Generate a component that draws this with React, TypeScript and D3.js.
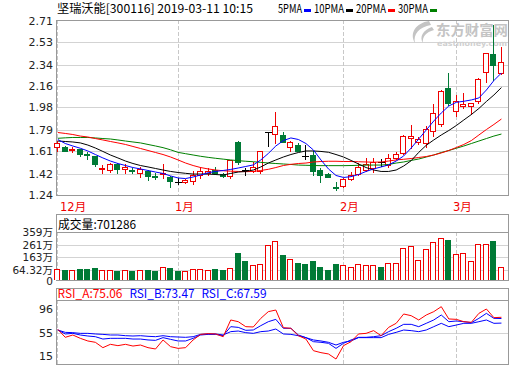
import { useEffect, useRef } from 'react';
import * as d3 from 'd3';

const title = '坚瑞沃能[300116] 2019-03-11 10:15';

const opens = [1.643, 1.648, 1.62, 1.626, 1.59, 1.569, 1.46, 1.454, 1.502, 1.457, 1.448, 1.428, 1.445, 1.401, 1.42, 1.395, 1.35, 1.35, 1.358, 1.412, 1.423, 1.448, 1.42, 1.401, 1.688, 1.447, 1.443, 1.443, 1.77, 1.753, 1.747, 1.643, 1.665, 1.572, 1.578, 1.451, 1.418, 1.305, 1.316, 1.376, 1.415, 1.451, 1.471, 1.518, 1.493, 1.55, 1.592, 1.724, 1.688, 1.682, 1.783, 1.837, 2.147, 1.95, 1.989, 1.995, 2.034, 2.277, 2.431, 2.268];
const highs = [1.699, 1.652, 1.643, 1.63, 1.601, 1.571, 1.496, 1.508, 1.513, 1.502, 1.466, 1.474, 1.448, 1.423, 1.502, 1.397, 1.381, 1.372, 1.443, 1.474, 1.466, 1.479, 1.423, 1.536, 1.692, 1.466, 1.521, 1.615, 1.77, 1.939, 1.77, 1.692, 1.677, 1.662, 1.614, 1.466, 1.428, 1.352, 1.381, 1.432, 1.508, 1.55, 1.555, 1.542, 1.584, 1.606, 1.745, 1.831, 1.733, 1.823, 2.006, 2.125, 2.268, 2.085, 2.099, 2.02, 2.225, 2.44, 2.676, 2.493];
const lows = [1.614, 1.61, 1.604, 1.572, 1.542, 1.488, 1.428, 1.434, 1.428, 1.423, 1.423, 1.39, 1.367, 1.378, 1.38, 1.31, 1.333, 1.343, 1.333, 1.381, 1.409, 1.42, 1.395, 1.386, 1.502, 1.412, 1.437, 1.423, 1.657, 1.677, 1.688, 1.614, 1.61, 1.542, 1.409, 1.347, 1.39, 1.28, 1.305, 1.367, 1.409, 1.445, 1.437, 1.488, 1.479, 1.54, 1.586, 1.64, 1.668, 1.648, 1.741, 1.823, 2.0, 1.91, 1.978, 1.922, 2.015, 2.197, 2.212, 2.265];
const closes = [1.682, 1.614, 1.626, 1.586, 1.584, 1.502, 1.465, 1.499, 1.46, 1.474, 1.444, 1.457, 1.403, 1.397, 1.425, 1.356, 1.35, 1.364, 1.409, 1.443, 1.443, 1.425, 1.401, 1.533, 1.516, 1.447, 1.479, 1.612, 1.77, 1.823, 1.69, 1.688, 1.612, 1.572, 1.445, 1.409, 1.395, 1.3, 1.373, 1.409, 1.479, 1.499, 1.521, 1.518, 1.55, 1.584, 1.741, 1.738, 1.711, 1.8, 1.93, 2.119, 2.015, 2.037, 2.011, 2.017, 2.22, 2.437, 2.338, 2.361];

// volume in 万
const volumes = [69, 63, 63, 69, 69, 76, 61, 61, 56, 61, 56, 61, 63, 56, 86, 76, 56, 56, 74, 74, 61, 69, 63, 76, 201, 132, 99, 107, 260, 290, 178, 153, 117, 107, 132, 86, 63, 107, 99, 84, 107, 99, 99, 84, 115, 122, 234, 250, 145, 227, 283, 318, 298, 191, 199, 137, 267, 267, 290, 89];

const ma5 = [1.709, 1.675, 1.654, 1.635, 1.612, 1.582, 1.553, 1.527, 1.506, 1.489, 1.472, 1.46, 1.447, 1.434, 1.422, 1.401, 1.384, 1.379, 1.392, 1.409, 1.428, 1.439, 1.447, 1.456, 1.468, 1.481, 1.494, 1.536, 1.591, 1.654, 1.7, 1.722, 1.709, 1.675, 1.62, 1.536, 1.46, 1.405, 1.388, 1.395, 1.413, 1.439, 1.46, 1.477, 1.494, 1.527, 1.57, 1.637, 1.713, 1.789, 1.865, 1.933, 1.992, 2.023, 2.032, 2.043, 2.06, 2.127, 2.207, 2.271];
const ma10 = [1.696, 1.692, 1.688, 1.68, 1.662, 1.637, 1.608, 1.578, 1.553, 1.527, 1.506, 1.489, 1.477, 1.464, 1.451, 1.439, 1.43, 1.423, 1.417, 1.417, 1.417, 1.413, 1.409, 1.422, 1.434, 1.439, 1.451, 1.477, 1.51, 1.536, 1.561, 1.582, 1.599, 1.612, 1.612, 1.608, 1.601, 1.582, 1.561, 1.532, 1.502, 1.472, 1.451, 1.439, 1.439, 1.451, 1.485, 1.53, 1.6, 1.66, 1.705, 1.747, 1.785, 1.827, 1.874, 1.92, 1.971, 2.03, 2.085, 2.148];
const ma20 = [1.768, 1.76, 1.751, 1.738, 1.73, 1.717, 1.705, 1.692, 1.68, 1.667, 1.65, 1.633, 1.616, 1.599, 1.582, 1.561, 1.536, 1.51, 1.489, 1.472, 1.46, 1.451, 1.445, 1.441, 1.439, 1.437, 1.439, 1.447, 1.457, 1.472, 1.489, 1.499, 1.506, 1.51, 1.519, 1.523, 1.525, 1.525, 1.523, 1.523, 1.521, 1.519, 1.517, 1.519, 1.527, 1.536, 1.542, 1.548, 1.557, 1.565, 1.578, 1.595, 1.616, 1.641, 1.667, 1.7, 1.747, 1.793, 1.836, 1.882];
const ma30 = [1.719, 1.723, 1.726, 1.726, 1.726, 1.722, 1.717, 1.713, 1.705, 1.696, 1.688, 1.68, 1.667, 1.654, 1.64, 1.622, 1.6, 1.589, 1.578, 1.567, 1.558, 1.55, 1.543, 1.536, 1.53, 1.525, 1.521, 1.516, 1.51, 1.506, 1.502, 1.498, 1.493, 1.491, 1.489, 1.488, 1.488, 1.488, 1.488, 1.489, 1.491, 1.492, 1.493, 1.493, 1.498, 1.51, 1.519, 1.532, 1.544, 1.561, 1.578, 1.599, 1.616, 1.635, 1.654, 1.675, 1.696, 1.717, 1.738, 1.755];

const rsiA = [59.6, 49.3, 52.3, 48.0, 44.6, 42.9, 36.0, 40.3, 38.6, 40.3, 38.1, 39.4, 36.0, 34.3, 45.9, 37.3, 35.1, 36.0, 45.9, 53.1, 54.0, 53.6, 50.1, 71.6, 69.4, 63.0, 62.6, 73.7, 82.3, 84.4, 61.7, 60.9, 51.4, 47.1, 32.1, 29.6, 27.9, 21.4, 38.6, 43.7, 53.6, 54.4, 57.9, 51.4, 62.1, 67.3, 79.3, 77.1, 71.6, 78.0, 82.3, 88.7, 72.9, 72.4, 69.4, 68.6, 80.1, 85.7, 74.6, 75.06];
const rsiB = [58.7, 53.6, 54.4, 52.3, 51.0, 50.1, 47.1, 48.0, 48.0, 48.0, 47.1, 47.1, 45.9, 45.4, 48.9, 46.7, 44.6, 44.6, 48.0, 52.3, 53.1, 53.1, 51.4, 63.0, 62.1, 58.3, 58.7, 64.3, 69.4, 72.4, 60.9, 60.9, 52.3, 48.9, 43.7, 42.9, 41.6, 35.1, 41.6, 45.9, 49.3, 49.3, 50.1, 51.4, 56.6, 60.9, 66.0, 66.0, 63.0, 67.3, 71.6, 78.0, 69.4, 70.3, 69.4, 68.1, 73.7, 80.1, 73.7, 73.47];
const rsiC = [58.7, 55.7, 55.3, 54.4, 54.4, 53.6, 53.1, 52.3, 52.3, 51.4, 51.0, 51.4, 50.6, 50.1, 51.4, 50.1, 49.7, 49.3, 50.1, 53.1, 53.6, 53.6, 52.3, 56.6, 57.4, 55.3, 54.4, 56.6, 57.4, 60.0, 53.6, 53.1, 51.4, 48.9, 45.9, 44.6, 42.9, 39.4, 42.9, 44.6, 48.9, 48.9, 48.9, 48.9, 53.1, 55.7, 58.7, 57.9, 56.6, 58.7, 63.0, 67.3, 63.0, 65.1, 67.3, 67.3, 69.4, 71.6, 67.3, 67.59];

const monthStarts = [0, 16, 38, 53];
const monthLabels = ['12月', '1月', '2月', '3月'];
const priceTicks = [1.24, 1.42, 1.61, 1.79, 1.98, 2.16, 2.34, 2.53, 2.71];
const volumeTicks = [0, 64.32, 163, 261, 359];
const volumeTickLabels = ['0', '64.32万', '163万', '261万', '359万'];
const rsiTicks = [15, 55, 96];
const maNames = ['5PMA', '10PMA', '20PMA', '30PMA'];
const rsiNames = ['RSI_A', 'RSI_B', 'RSI_C'];
const rsiLast = ['75.06', '73.47', '67.59'];
const volumeLast = '701286';

const RED = '#f00000';
const GREEN = '#007a36';
const FRAME = '#999';
const GRID = '#d3d3d3';
const maColors = ['#0000ff', '#000000', '#ff0000', '#008000'];
const rsiColors = ['#ff0000', '#0000ff', '#0000ff'];

export default function App() {
  const svgRef = useRef<SVGSVGElement>(null);

  useEffect(() => {
    if (!svgRef.current) return;
    const svg = d3.select(svgRef.current);
    svg.selectAll('*').remove();

    const n = closes.length;
    const left = 56.5;
    const right = 508.5;
    const volBase = 280;
    const axisFont = "'DejaVu Sans', 'Noto Sans CJK SC', sans-serif";
    const headFont = "'Noto Sans CJK SC', sans-serif";

    const x = d3.scaleBand<number>().domain(d3.range(n)).range([54, 505.2]);
    const cx = (i: number) => (x(i) ?? 0) + x.bandwidth() / 2;
    const col = (i: number) => Math.floor(cx(i));

    const yPrice = d3.scaleLinear().domain([1.24, 2.71]).range([195, 21]);
    const yVol = d3.scaleLinear().domain([0, 359]).range([278, 232.5]);
    const yRsi = d3.scaleLinear().domain([15, 96]).range([364, 301]);

    svg.append('rect').attr('width', 520).attr('height', 365).attr('fill', '#fff');

    // panel frames, grids and month lines
    const panel = (top: number, plotTop: number, bottom: number, grid: number[]) => {
      const p = svg.append('g').attr('shape-rendering', 'crispEdges');
      grid.forEach((gy) => {
        const yy = Math.round(gy) + 0.5;
        p.append('line').attr('x1', left).attr('x2', right).attr('y1', yy).attr('y2', yy).attr('stroke', GRID);
      });
      monthStarts.forEach((i) => {
        p.append('line')
          .attr('x1', col(i) + 0.5).attr('x2', col(i) + 0.5)
          .attr('y1', plotTop).attr('y2', bottom)
          .attr('stroke', '#c8c8c8').attr('stroke-dasharray', '4,2');
      });
      if (plotTop !== top) {
        p.append('line').attr('x1', left).attr('x2', right).attr('y1', plotTop + 0.5).attr('y2', plotTop + 0.5).attr('stroke', FRAME);
      }
      p.append('rect')
        .attr('x', left).attr('y', top + 0.5)
        .attr('width', right - left).attr('height', bottom - top)
        .attr('fill', 'none').attr('stroke', FRAME);
    };

    panel(20, 20, 195, priceTicks.slice(1, -1).map((t) => yPrice(t)));
    panel(214, 232, volBase, volumeTicks.slice(1, -1).map((t) => yVol(t)));
    panel(288, 300, 364, [yRsi(55)]);

    // watermark
    const wm = svg.append('g');
    wm.append('path')
      .attr('d', 'M429,21 C416,23 409,33 415,43 C413,34 419,27 431,25 Z M432,27 C423,30 419,37 423,43 C422,37 426,32 434,30 Z')
      .attr('fill', '#c4c4c4');
    wm.append('text').attr('x', 436).attr('y', 34.5).attr('font-family', headFont).attr('font-weight', 'bold')
      .attr('font-size', 14).attr('fill', '#c4c4c4').attr('textLength', 72).attr('lengthAdjust', 'spacingAndGlyphs')
      .text('东方财富网');
    wm.append('text').attr('x', 437).attr('y', 45.5).attr('font-family', "'DejaVu Sans', sans-serif").attr('font-weight', 'bold')
      .attr('font-size', 7.5).attr('fill', '#d0d0d0').attr('textLength', 70).attr('lengthAdjust', 'spacingAndGlyphs')
      .text('eastmoney.com');

    // axis labels
    const labels = svg.append('g').attr('font-family', axisFont).attr('font-size', 11).attr('fill', '#222').attr('text-anchor', 'end');
    priceTicks.forEach((t) => {
      labels.append('text').attr('x', 53).attr('y', yPrice(t)).attr('dy', '0.36em').text(t.toFixed(2));
    });
    volumeTicks.forEach((t, k) => {
      const yy = k === 0 ? volBase + 1 : yVol(t);
      labels.append('text').attr('x', 53).attr('y', yy).attr('dy', '0.36em').attr('font-size', 10.5).text(volumeTickLabels[k]);
    });
    rsiTicks.forEach((t) => {
      const yy = Math.max(309, Math.min(356, yRsi(t)));
      labels.append('text').attr('x', 53).attr('y', yy).attr('dy', '0.36em').text(String(t));
    });

    // month labels
    const months = svg.append('g').attr('font-family', axisFont).attr('font-size', 11.5).attr('fill', RED);
    monthStarts.forEach((i, k) => {
      months.append('text').attr('x', Math.max(60, col(i) - 3)).attr('y', 211).text(monthLabels[k]);
    });

    // header texts
    svg.append('text').attr('x', 57).attr('y', 13).attr('font-family', headFont).attr('font-size', 12)
      .attr('textLength', 196).attr('lengthAdjust', 'spacingAndGlyphs').attr('fill', '#000').text(title);

    let lx = 278;
    maNames.forEach((name, k) => {
      const w = name.length * 6;
      svg.append('text').attr('x', lx).attr('y', 13).attr('font-family', headFont).attr('font-size', 12)
        .attr('textLength', w).attr('lengthAdjust', 'spacingAndGlyphs').text(name);
      svg.append('rect').attr('x', lx + w + 2).attr('y', 9).attr('width', 7).attr('height', 3).attr('fill', maColors[k]);
      lx += w + 2 + 7 + 3;
    });

    svg.append('text').attr('x', 58).attr('y', 228.5).attr('font-family', headFont).attr('font-size', 12)
      .attr('textLength', 78).attr('lengthAdjust', 'spacingAndGlyphs').text(`成交量:${volumeLast}`);

    rsiNames.forEach((name, k) => {
      svg.append('text').attr('x', 57.5 + k * 72).attr('y', 297.5).attr('font-family', headFont).attr('font-size', 12)
        .attr('textLength', 65).attr('lengthAdjust', 'spacingAndGlyphs').attr('fill', rsiColors[k])
        .text(`${name}:${rsiLast[k]}`);
    });

    // direction for volume colors
    const up = (i: number) =>
      closes[i] > opens[i] ? true : closes[i] < opens[i] ? false : i === 0 || closes[i] >= closes[i - 1];

    // volume bars
    const vg = svg.append('g').attr('shape-rendering', 'crispEdges');
    volumes.forEach((v, i) => {
      const top = Math.round(yVol(v));
      const h = volBase - top;
      const x0 = col(i) - 3;
      if (up(i)) {
        vg.append('rect').attr('x', x0).attr('y', top).attr('width', 6).attr('height', h).attr('fill', RED);
        vg.append('rect').attr('x', x0 + 1).attr('y', top + 1).attr('width', 4).attr('height', Math.max(0, h - 1)).attr('fill', '#fff');
      } else {
        vg.append('rect').attr('x', x0).attr('y', top).attr('width', 6).attr('height', h).attr('fill', GREEN);
      }
    });

    // candles
    const cg = svg.append('g').attr('shape-rendering', 'crispEdges');
    closes.forEach((c, i) => {
      const o = opens[i];
      const color = c > o ? RED : c < o ? GREEN : '#000';
      const xc = col(i) + 0.5;
      cg.append('line').attr('x1', xc).attr('x2', xc)
        .attr('y1', Math.round(yPrice(highs[i]))).attr('y2', Math.round(yPrice(lows[i])) + 1)
        .attr('stroke', color);
      const top = Math.round(yPrice(Math.max(o, c)));
      const bot = Math.round(yPrice(Math.min(o, c)));
      const h = Math.max(1, bot - top);
      const x0 = col(i) - 3;
      if (c === o) {
        cg.append('line').attr('x1', x0).attr('x2', x0 + 7).attr('y1', top + 0.5).attr('y2', top + 0.5).attr('stroke', color);
      } else if (c > o) {
        cg.append('rect').attr('x', x0).attr('y', top).attr('width', 6).attr('height', h + 1).attr('fill', RED);
        if (h > 1) {
          cg.append('rect').attr('x', x0 + 1).attr('y', top + 1).attr('width', 4).attr('height', h - 1).attr('fill', '#fff');
        }
      } else {
        cg.append('rect').attr('x', x0).attr('y', top).attr('width', 6).attr('height', h + 1).attr('fill', GREEN);
      }
    });

    // moving averages
    const maLine = d3.line<number>().x((_, i) => cx(i)).y((d) => yPrice(d));
    [ma30, ma20, ma10, ma5].forEach((series, k) => {
      svg.append('path').datum(series).attr('d', maLine).attr('fill', 'none')
        .attr('stroke', maColors[3 - k]).attr('stroke-width', 1);
    });

    // RSI lines
    const rsiLine = d3.line<number>().x((_, i) => cx(i)).y((d) => yRsi(d));
    [rsiC, rsiB, rsiA].forEach((series, k) => {
      svg.append('path').datum(series).attr('d', rsiLine).attr('fill', 'none')
        .attr('stroke', rsiColors[2 - k]).attr('stroke-width', 1);
    });
  }, []);

  return (
    <svg
      ref={svgRef}
      width={520}
      height={365}
      style={{ position: 'absolute', left: 0, top: 0, display: 'block' }}
    />
  );
}
